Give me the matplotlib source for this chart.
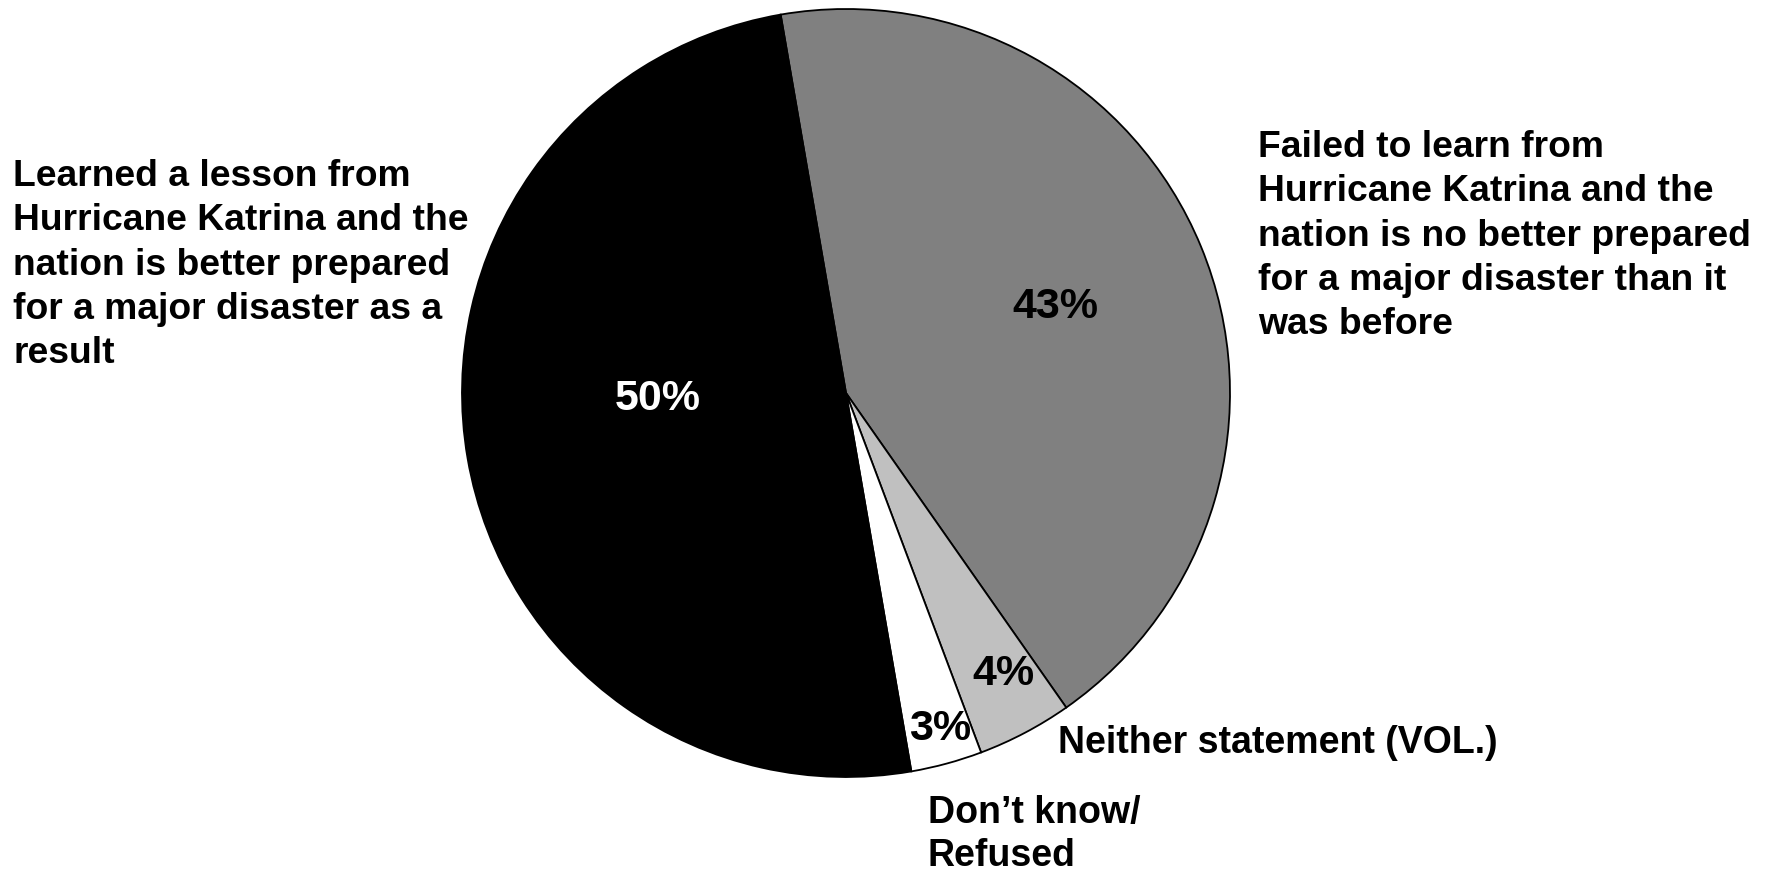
import numpy as np
import matplotlib
matplotlib.use("Agg")
import matplotlib.pyplot as plt
from matplotlib import font_manager

# Survey shares, clockwise from the top
categories = ["Failed to learn", "Neither statement", "Don't know/Refused", "Learned a lesson"]
shares = [43, 4, 3, 50]
slice_colors = ["#808080", "#C0C0C0", "#FFFFFF", "#000000"]
pct_colors = ["black", "black", "black", "white"]

label_learned = ("Learned a lesson from\nHurricane Katrina and the\n"
                 "nation is better prepared\nfor a major disaster as a\nresult")
label_failed = ("Failed to learn from\nHurricane Katrina and the\n"
                "nation is no better prepared\nfor a major disaster than it\nwas before")
label_neither = "Neither statement (VOL.)"
label_dk = "Don\u2019t know/\nRefused"

names = {f.name for f in font_manager.fontManager.ttflist}
wide = "Liberation Sans" if "Liberation Sans" in names else "DejaVu Sans"
narrow = "Liberation Sans Narrow" if "Liberation Sans Narrow" in names else wide

W, H = 1771, 875
fig = plt.figure(figsize=(W / 100, H / 100), dpi=100)

# pie centre and radius in pixels
cx, cy, r = 846, 393, 384
ax = fig.add_axes([(cx - r) / W, (H - cy - r) / H, 2 * r / W, 2 * r / H])
wedges, _ = ax.pie(shares, colors=slice_colors, startangle=99.8, counterclock=False,
                   wedgeprops=dict(edgecolor="black", linewidth=1.3))
ax.set_xlim(-1, 1)
ax.set_ylim(-1, 1)
ax.set_aspect("equal")
ax.axis("off")

# radial distance and angle nudge for each percent label
pct_dist = [0.59, 0.84, 0.91, 0.49]
pct_nudge = [0, 1.5, 0.5, -8]
for w, v, c, d, n in zip(wedges, shares, pct_colors, pct_dist, pct_nudge):
    ang = np.deg2rad((w.theta1 + w.theta2) / 2 + n)
    ax.text(d * np.cos(ang), d * np.sin(ang), f"{v}%", color=c, ha="center", va="center",
            fontsize=31, fontweight="bold", family=narrow)

def px(x, y):
    return x / W, 1 - y / H

fig.text(*px(13, 265), label_learned, ha="left", va="center", fontsize=26.8,
         fontweight="bold", family=wide, linespacing=1.34)
fig.text(*px(1258, 236), label_failed, ha="left", va="center", fontsize=26.8,
         fontweight="bold", family=wide, linespacing=1.34)
fig.text(*px(1058, 743), label_neither, ha="left", va="center", fontsize=27,
         fontweight="bold", family=narrow)
fig.text(*px(928, 835), label_dk, ha="left", va="center", fontsize=27,
         fontweight="bold", family=narrow, linespacing=1.25)

fig.savefig("out.png", dpi=100, facecolor="white")
